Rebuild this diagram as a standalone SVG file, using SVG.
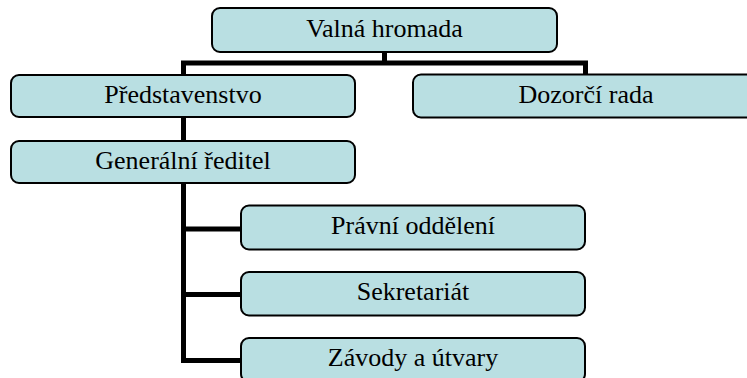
<svg xmlns="http://www.w3.org/2000/svg" width="747" height="378" viewBox="0 0 747 378">
  <style>
    .box { fill: #b9dfe2; stroke: #000; stroke-width: 2; }
    .lbl { font-family: 'Liberation Serif', 'DejaVu Serif', serif; font-size: 26px; fill: #000; text-anchor: middle; }
    .wire { fill: none; stroke: #000; stroke-width: 5; stroke-linejoin: miter; }
  </style>
  <rect width="747" height="378" fill="#fff"/>

  <g id="connectors">
    <path class="wire" d="M384.5 52 V63"/>
    <path class="wire" d="M183.5 363 V63 H585.5 V75"/>
    <path class="wire" d="M183.5 229 H242"/>
    <path class="wire" d="M183.5 294.5 H242"/>
    <path class="wire" d="M181 360.5 H242"/>
  </g>

  <g id="valna-hromada">
    <rect class="box" x="212" y="8" width="345" height="44" rx="8"/>
    <text class="lbl" x="384.5" y="37">Valná hromada</text>
  </g>
  <g id="predstavenstvo">
    <rect class="box" x="11" y="75" width="344" height="42" rx="8"/>
    <text class="lbl" x="183" y="102.5">Představenstvo</text>
  </g>
  <g id="dozorci-rada">
    <rect class="box" x="413" y="74.5" width="346" height="43" rx="8"/>
    <text class="lbl" x="586" y="103">Dozorčí rada</text>
  </g>
  <g id="generalni-reditel">
    <rect class="box" x="11" y="141" width="344" height="42" rx="8"/>
    <text class="lbl" x="183" y="168.5">Generální ředitel</text>
  </g>
  <g id="pravni-oddeleni">
    <rect class="box" x="241" y="205.5" width="344" height="44" rx="8"/>
    <text class="lbl" x="413" y="233.5">Právní oddělení</text>
  </g>
  <g id="sekretariat">
    <rect class="box" x="241" y="272" width="344" height="43.5" rx="8"/>
    <text class="lbl" x="413" y="299.5">Sekretariát</text>
  </g>
  <g id="zavody-a-utvary">
    <rect class="box" x="241" y="338" width="344" height="44" rx="8"/>
    <text class="lbl" x="413" y="366">Závody a útvary</text>
  </g>
</svg>
